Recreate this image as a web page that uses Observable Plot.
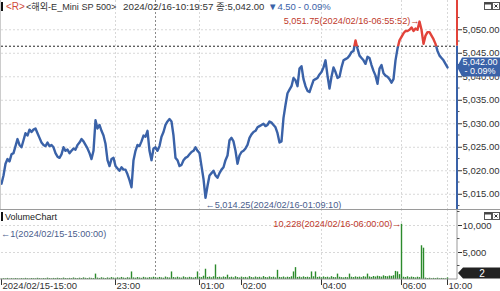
<!DOCTYPE html>
<html><head><meta charset="utf-8">
<script src="https://cdn.jsdelivr.net/npm/d3@7"></script>
<script src="https://cdn.jsdelivr.net/npm/@observablehq/plot@0.6"></script>
<style>
body{margin:0;background:#fff;}
#wrap{position:relative;width:500px;height:291px;overflow:hidden;background:#fff;}
#price,#vol,#over{position:absolute;left:0;}
#price{top:0;}
#vol{top:209px;}
#over{top:0;pointer-events:none;}
</style></head>
<body><div id="wrap">
<div id="price"></div><div id="vol"></div>
<svg id="over" width="500" height="291"></svg>
</div>
<script>
// ---------- data ----------
const price = [
5017.25,5019.0,5021.5,5022.5,5022.0,5023.5,5023.75,5025.25,5026.75,5025.5,
5025.0,5026.5,5028.0,5027.5,5028.75,5028.25,5028.75,5029.0,5028.0,5027.0,
5026.0,5025.5,5025.25,5026.0,5025.25,5025.5,5025.0,5023.75,5023.0,5022.75,
5023.5,5025.0,5024.25,5024.5,5023.75,5024.25,5024.75,5024.5,5025.5,5026.0,
5026.75,5026.25,5025.5,5024.75,5023.75,5022.5,5024.25,5030.75,5029.0,5029.75,
5028.5,5027.5,5025.75,5022.25,5021.0,5022.5,5022.75,5021.0,5020.5,5020.0,
5020.75,5020.25,5020.25,5019.25,5018.0,5016.5,5022.25,5024.25,5025.5,5025.25,
5026.25,5027.5,5027.25,5028.5,5024.25,5022.25,5024.75,5025.0,5024.25,5025.25,
5027.25,5028.25,5029.75,5030.5,5031.0,5030.5,5027.5,5022.75,5022.25,5021.0,
5021.25,5022.25,5022.75,5023.0,5023.5,5024.0,5024.25,5025.0,5024.25,5023.75,
5021.0,5018.25,5014.25,5016.75,5019.0,5019.5,5020.0,5019.0,5018.5,5019.5,
5020.25,5020.75,5022.25,5023.25,5026.5,5027.0,5026.25,5024.25,5021.5,5023.25,
5024.0,5024.25,5024.75,5025.5,5027.0,5027.75,5028.25,5028.5,5029.25,5029.5,
5029.75,5030.0,5029.5,5029.75,5030.5,5030.25,5029.75,5029.25,5028.0,5026.0,
5026.25,5031.25,5034.0,5036.5,5037.25,5038.0,5039.75,5039.25,5038.0,5041.75,
5042.25,5039.5,5038.0,5037.0,5036.75,5038.0,5039.25,5039.5,5039.75,5040.5,
5041.0,5042.0,5043.5,5040.25,5037.5,5040.0,5042.0,5041.0,5039.75,5040.0,
5042.0,5043.5,5043.75,5044.0,5044.5,5045.25,5045.5,5047.75,5046.0,5044.5,
5044.0,5043.5,5042.75,5044.25,5044.0,5042.5,5041.25,5040.25,5038.5,5041.75,
5042.5,5040.75,5040.25,5040.0,5039.5,5038.75,5039.5,5043.5,5046.0,5047.75,
5048.5,5049.25,5049.75,5049.75,5050.0,5050.5,5049.75,5050.25,5050.0,5051.75,
5050.0,5047.0,5048.75,5049.5,5049.5,5048.75,5048.0,5047.0,5045.5,5044.5,
5044.0,5043.5,5042.75,5042.0
];
const volume = [
80,150,120,200,90,160,110,180,130,100,
170,120,210,140,100,190,150,130,220,160,
120,180,140,250,170,130,200,160,230,180,
150,260,190,140,210,170,280,200,160,240,
190,300,220,170,260,210,180,1000,260,200,
320,240,180,290,220,350,260,200,310,240,
380,270,210,330,260,1400,300,240,360,280,
220,400,300,250,350,290,420,310,260,380,
300,240,450,330,280,1400,360,290,420,310,
260,480,340,290,400,330,270,380,1400,420,
350,600,1900,380,450,320,500,2700,360,420,
310,470,380,800,340,420,300,510,360,280,
440,330,390,290,520,360,300,460,340,410,
290,540,370,320,480,350,430,300,1700,390,
340,460,310,420,360,500,1400,2200,380,450,
330,490,370,420,340,1400,500,1400,380,450,
330,480,360,420,300,520,380,340,1000,410,
350,300,380,330,1000,420,360,480,390,450,
340,520,430,1000,470,380,560,450,610,520,
440,680,560,500,640,580,700,1500,1400,900,
10228,420,360,500,330,450,380,300,420,350,
6250,5800,260,180,230,150,210,170,240,140,
200,160,120,300
];
const prevClose = 5046.5;
const lastPrice = 5042.00;
const lastVolume = 2;
const yTicks = [5015,5020,5025,5030,5035,5040,5045,5050];
const yMinorTicks = [5012.5,5017.5,5022.5,5027.5,5032.5,5037.5,5042.5,5047.5,5052.5];
const volTicks = [5000,10000];
const volMinorTicks = [2500,7500,12500];
const xTickSlots = [0,57,99,120,160,200,223];
const xTickLabels = ["2024/02/15-15:00","23:00","01:00","02:00","04:00","06:00","10:00"];
const gridSlots = [57,99,160,200,223];
const daySlot = [77];
const maxPt = {i:209, p:5051.75, label:"5,051.75(2024/02/16-06:55:52)→"};
const minPt = {i:102, p:5014.25, label:"←5,014.25(2024/02/16-01:09:10)"};
const maxVol = {i:200, v:10228, label:"10,228(2024/02/16-06:00:00)→"};

const FONT = '"Liberation Sans","Noto Sans CJK KR",sans-serif';
const BLUE = "#3a62a8", RED = "#e2433a", GREEN = "#2c8a2c", NAVY = "#4a5d8c", BROWN = "#c0392b";
const pdata = price.map((p,i)=>({i,p}));
const vdata = volume.map((v,i)=>({i,v}));
const xDomain = [0,228];

// ---------- price panel ----------
const pc = Plot.plot({
  width:500, height:209, marginLeft:1, marginRight:43, marginTop:0, marginBottom:0,
  x:{domain:xDomain, axis:null},
  y:{domain:[5011.76,5056.23], axis:"right", ticks:yTicks, tickFormat:d3.format(",.2f"), tickSize:4, tickPadding:1, label:null},
  style:{fontFamily:FONT, fontSize:"9.5px", color:"#333", background:"transparent", overflow:"visible"},
  marks:[
    Plot.ruleY(yTicks,{stroke:"#d8d8d8", strokeDasharray:"2,2"}),
    Plot.ruleX(gridSlots,{stroke:"#d8d8d8", strokeDasharray:"2,2"}),
    Plot.ruleX(daySlot,{stroke:"#8a8a8a", strokeDasharray:"2,2"}),
    Plot.ruleY([prevClose],{stroke:"#222", strokeDasharray:"2,2"}),
    Plot.line(pdata,{x:"i", y:"p", stroke:BLUE, strokeWidth:2.4}),
    Plot.text([maxPt],{x:"i", y:"p", text:"label", textAnchor:"end", fill:BROWN, dy:-1, fontSize:9.2}),
    Plot.text([minPt],{x:"i", y:"p", text:"label", textAnchor:"start", fill:NAVY, dy:7, fontSize:9.2})
  ]
});
document.getElementById("price").appendChild(pc);

// ---------- volume panel ----------
const vc = Plot.plot({
  width:500, height:82, marginLeft:1, marginRight:43, marginTop:0, marginBottom:12,
  x:{domain:xDomain, axis:"bottom", ticks:xTickSlots, tickFormat:(d)=>xTickLabels[xTickSlots.indexOf(d)], tickSize:6, tickPadding:-3, label:null},
  y:{domain:[0,12963], axis:"right", ticks:volTicks, tickFormat:d3.format(","), tickSize:4, tickPadding:1, label:null},
  style:{fontFamily:FONT, fontSize:"9.5px", color:"#333", background:"transparent", overflow:"visible"},
  marks:[
    Plot.ruleY(volTicks,{stroke:"#d8d8d8", strokeDasharray:"2,2"}),
    Plot.ruleX(gridSlots,{stroke:"#d8d8d8", strokeDasharray:"2,2"}),
    Plot.ruleX(daySlot,{stroke:"#8a8a8a", strokeDasharray:"2,2"}),
    Plot.ruleX(vdata,{x:"i", y1:0, y2:"v", stroke:GREEN, strokeWidth:1.4}),
    Plot.text([maxVol],{x:"i", y:"v", text:"label", textAnchor:"end", fill:BROWN, dy:0, fontSize:9.2})
  ]
});
document.getElementById("vol").appendChild(vc);

// ---------- post-processing ----------
const NS = "http://www.w3.org/2000/svg";
function el(parent, name, attrs){const e=document.createElementNS(NS,name);for(const k in attrs)e.setAttribute(k,attrs[k]);parent.appendChild(e);return e;}

(function(){
  const ys = pc.scale("y"), xs = pc.scale("x");
  const yc = ys.apply(prevClose);
  const xr = xs.apply(xDomain[1]);
  const path = pc.querySelector('g[aria-label="line"] path');
  const defs = el(pc,"defs",{});
  const c1 = el(defs,"clipPath",{id:"clipUp"}); el(c1,"rect",{x:0,y:0,width:500,height:yc});
  const c2 = el(defs,"clipPath",{id:"clipDn"}); el(c2,"rect",{x:0,y:yc,width:500,height:300});
  const red = path.cloneNode(true);
  red.setAttribute("stroke",RED); red.setAttribute("clip-path","url(#clipUp)");
  path.setAttribute("clip-path","url(#clipDn)");
  path.parentNode.appendChild(red);
  yMinorTicks.forEach(v=>{const y=ys.apply(v);el(pc,"line",{x1:xr,x2:xr+2.5,y1:y,y2:y,stroke:"#555"});});
  el(pc,"line",{x1:xr,x2:xr,y1:0,y2:yc,stroke:RED,"stroke-width":2});
  el(pc,"line",{x1:xr,x2:xr,y1:yc,y2:209,stroke:BLUE,"stroke-width":2});
  const yl = ys.apply(lastPrice);
  const g = el(pc,"g",{});
  el(g,"path",{d:`M${xr},${yl} L${xr+5},${yl-9.5} L500,${yl-9.5} L500,${yl+9.5} L${xr+5},${yl+9.5} Z`, fill:BLUE});
  const t1 = el(g,"text",{x:480,y:yl-1.5,"text-anchor":"middle",fill:"#fff","font-size":"9px","font-family":FONT}); t1.textContent=d3.format(",.2f")(lastPrice);
  const t2 = el(g,"text",{x:480,y:yl+7.5,"text-anchor":"middle",fill:"#fff","font-size":"9px","font-family":FONT}); t2.textContent="- 0.09%";
})();

(function(){
  const ys = vc.scale("y"), xs = vc.scale("x");
  const xr = xs.apply(xDomain[1]);
  const y0 = ys.apply(0);
  el(vc,"line",{x1:0,x2:500,y1:0.5,y2:0.5,stroke:"#9a9a9a","stroke-width":1});
  el(vc,"line",{x1:xr,x2:xr,y1:0,y2:y0,stroke:"#999","stroke-width":1});
  el(vc,"line",{x1:0,x2:xr,y1:y0,y2:y0,stroke:"#999","stroke-width":1});
  volMinorTicks.forEach(v=>{const y=ys.apply(v);el(vc,"line",{x1:xr,x2:xr+2.5,y1:y,y2:y,stroke:"#555"});});
  vc.querySelectorAll('g[aria-label^="x-axis"] text').forEach(t=>{t.setAttribute("text-anchor","start");t.setAttribute("dx","1");});
  const yb = Math.min(ys.apply(lastVolume), y0-0.5);
  const g = el(vc,"g",{});
  el(g,"path",{d:`M${xr+1},${yb-5.5} L${xr+6},${yb-11} L500,${yb-11} L500,${yb} L${xr+6},${yb} Z`, fill:"#222"});
  const t = el(g,"text",{x:482,y:yb-2,"text-anchor":"middle",fill:"#fff","font-size":"10px","font-family":FONT}); t.textContent=String(lastVolume);
})();

// ---------- header texts (overlay) ----------
const over = document.getElementById("over");
function txt(s,x,y,color,size){const t=el(over,"text",{x:x,y:y,fill:color,"font-size":(size||10)+"px","font-family":FONT});t.textContent=s;return t;}
el(over,"rect",{x:1,y:2,width:2,height:9,fill:"#111"});
txt("<R>",6,10,"#d04a3c");
txt("<해외-E_Mini SP 500>",26,10,"#333",9.1);
txt("2024/02/16-10:19:57",123,10,"#333",9.8);
txt("종:5,042.00",216,10,"#333",9.5);
txt("▼4.50",268,10,BLUE,9.5);
txt("- 0.09%",298,10,BLUE,9.5);
el(over,"rect",{x:1,y:212,width:2,height:9,fill:"#111"});
txt("VolumeChart",5,220,"#222",9);
txt("←1(2024/02/15-15:00:00)",1,237,NAVY,9.2);
function icons(top){
  el(over,"rect",{x:484.5,y:top+0.5,width:7,height:7,fill:"#fff",stroke:"#555"});
  el(over,"rect",{x:484.5,y:top+0.5,width:7,height:2,fill:"#444"});
  el(over,"rect",{x:492.5,y:top+0.5,width:7,height:7,fill:"#fff",stroke:"#555"});
  el(over,"path",{d:`M494.5,${top+2.5} L497.5,${top+5.5} M497.5,${top+2.5} L494.5,${top+5.5}`,stroke:"#333","stroke-width":1});
}
icons(2); icons(212);
el(over,"line",{x1:0.5,x2:0.5,y1:0,y2:209,stroke:"#ccc"});
</script>
</body></html>
